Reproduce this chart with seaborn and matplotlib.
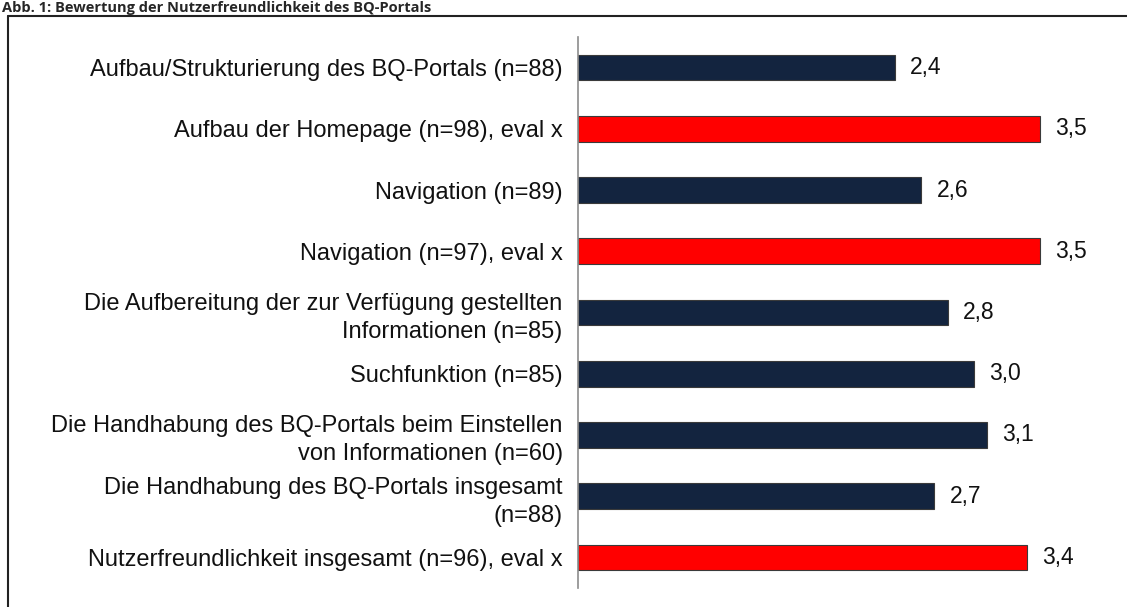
import matplotlib
matplotlib.use("Agg")
import matplotlib.pyplot as plt
import seaborn as sns
import pandas as pd
from matplotlib.lines import Line2D

# data
categories = [
    "Aufbau/Strukturierung des BQ-Portals (n=88)",
    "Aufbau der Homepage (n=98), eval x",
    "Navigation (n=89)",
    "Navigation (n=97), eval x",
    "Die Aufbereitung der zur Verfügung gestellten\nInformationen (n=85)",
    "Suchfunktion (n=85)",
    "Die Handhabung des BQ-Portals beim Einstellen\nvon Informationen (n=60)",
    "Die Handhabung des BQ-Portals insgesamt\n(n=88)",
    "Nutzerfreundlichkeit insgesamt (n=96), eval x",
]
values = [2.4, 3.5, 2.6, 3.5, 2.8, 3.0, 3.1, 2.7, 3.4]
is_eval = [False, True, False, True, False, False, False, False, True]
title = "Abb. 1: Bewertung der Nutzerfreundlichkeit des BQ-Portals"

navy = "#13243f"
red = "#ff0000"
colors = [red if e else navy for e in is_eval]

df = pd.DataFrame({"item": categories, "score": values})

sns.set_style("white")
plt.rcParams["font.family"] = ["Liberation Sans", "DejaVu Sans"]

fig = plt.figure(figsize=(11.27, 6.07), dpi=100)
ax = fig.add_axes([578 / 1127, 19 / 607, 528 / 1127, 551 / 607])

sns.barplot(data=df, x="score", y="item", hue="item", palette=colors, saturation=1,
            width=0.42, edgecolor="#3a3a3a", linewidth=0.8, legend=False, ax=ax)

for cont in ax.containers:
    ax.bar_label(cont, labels=[f"{b.get_width():.1f}".replace(".", ",") for b in cont],
                 padding=11, fontsize=16.5, color="#111111")

ax.set_xlim(0, 4.0)
ax.set_ylim(len(categories) - 0.5, -0.5)
ax.set_xlabel("")
ax.set_ylabel("")
ax.set_xticks([])
ax.set_yticks(range(len(categories)), labels=categories, linespacing=1.35)
ax.tick_params(axis="y", length=0, pad=11, labelsize=17, labelcolor="#111111")
for side in ["top", "right", "bottom"]:
    ax.spines[side].set_visible(False)
ax.spines["left"].set_color("#8c8c8c")
ax.spines["left"].set_linewidth(1.2)

# outer frame (top and left edge only, the rest is cropped)
top = 1 - 16 / 607
fig.add_artist(Line2D([8 / 1127, 1], [top, top], color="#222222", lw=1.5))
fig.add_artist(Line2D([8 / 1127, 8 / 1127], [0, top], color="#222222", lw=1.5))

# caption above the frame
fig.text(0.002, 1 - 12 / 607, title, fontsize=10.5, fontweight="bold",
         family=["Open Sans", "DejaVu Sans"], va="baseline", ha="left")

fig.savefig("out.png", dpi=100)
